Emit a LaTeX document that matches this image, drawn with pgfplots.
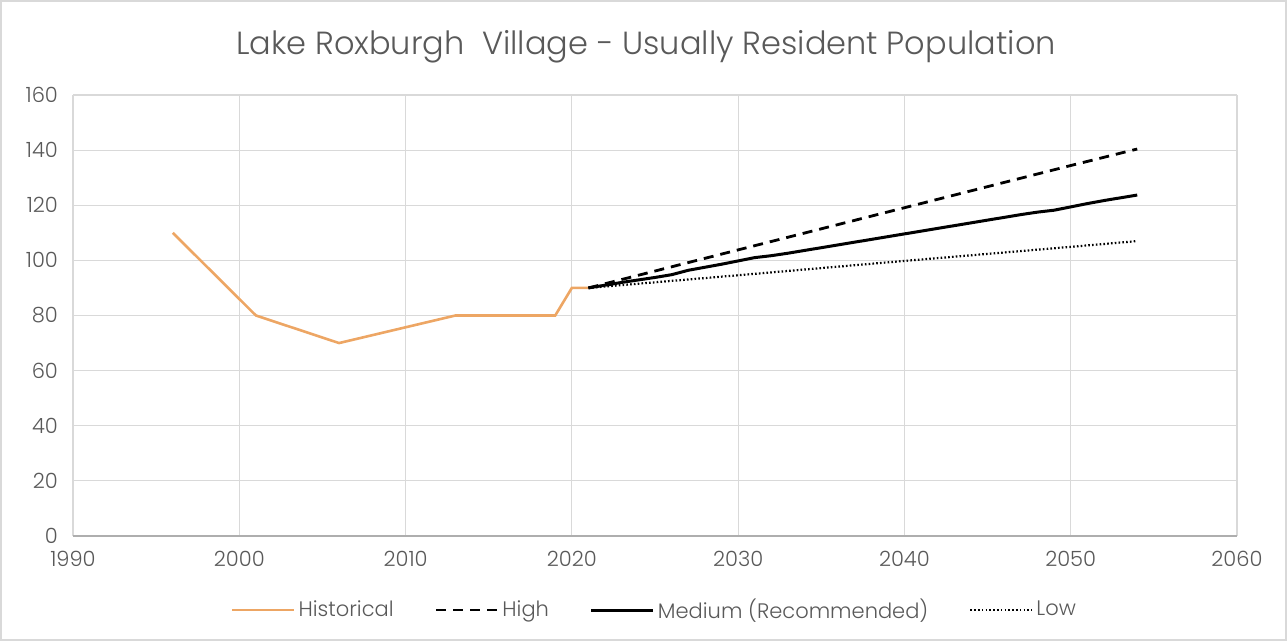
\documentclass[border=0pt]{standalone}
\usepackage{pgfplots}
\pgfplotsset{compat=1.18}
\usepackage{fontspec}
\setmainfont{Poppins Light}
\definecolor{txt}{HTML}{595959}
\definecolor{gridc}{HTML}{D9D9D9}
\definecolor{histline}{HTML}{EDA664}
\begin{document}
\begin{tikzpicture}
\useasboundingbox (0,0) rectangle (643.5pt,320.5pt);
\draw[gridc, line width=0.8pt] (0.5pt,0.5pt) rectangle (643pt,320pt);
\node[txt, font=\fontsize{16}{19}\selectfont] at (323pt,297pt) {Lake Roxburgh\ \ Village - Usually Resident Population};
\begin{axis}[
  at={(36.5pt,52.5pt)}, anchor=south west,
  scale only axis, width=582pt, height=220.5pt,
  xmin=1990, xmax=2060, ymin=0, ymax=160,
  xtick={1990,2000,...,2060}, ytick={0,20,...,160},
  /pgf/number format/1000 sep={},
  /pgf/number format/assume math mode=true,
  grid=major, grid style={gridc, line width=0.6pt},
  axis line style={draw=none},
  extra y ticks={0}, extra y tick labels={},
  extra y tick style={grid style={draw=gridc!80!black, line width=0.7pt}},
  major tick length=0pt,
  tick label style={txt, font=\fontsize{10.5}{12}\selectfont},
  yticklabel style={xshift=-4pt},
  xticklabel style={yshift=-4pt},
  legend columns=4,
  legend style={at={(0.5,-0.168)}, anchor=center, draw=none, fill=none,
    font=\fontsize{10.5}{12}\selectfont, text=txt,
    nodes={inner xsep=1.5pt},
    /tikz/every even column/.append style={column sep=19pt}},
  legend image code/.code={\draw[#1] (0pt,0pt) -- (31pt,0pt);},
]
\addplot[histline, line width=1.3pt] coordinates {
  (1996,110) (2001,80) (2006,70) (2013,80) (2019,80) (2020,90) (2021,90)};
\addlegendentry{Historical}
\addplot[black, line width=1.4pt, dash pattern=on 5pt off 3.5pt] coordinates {
  (2021,90) (2030,103.8) (2040,119.1) (2050,134.4) (2054,140.4)};
\addlegendentry{High}
\addplot[black, line width=1.5pt] coordinates {
  (2021,90) (2022,91) (2023,92) (2024,92.9) (2025,93.8) (2026,94.8)
  (2027,96.4) (2028,97.5) (2029,98.6) (2030,99.8) (2031,101) (2032,101.7)
  (2033,102.6) (2034,103.6) (2035,104.6) (2036,105.6) (2037,106.6)
  (2038,107.6) (2039,108.6) (2040,109.6) (2041,110.6) (2042,111.6)
  (2043,112.6) (2044,113.6) (2045,114.6) (2046,115.6) (2047,116.6)
  (2048,117.5) (2049,118.2) (2050,119.4) (2051,120.6) (2052,121.7)
  (2053,122.7) (2054,123.7)};
\addlegendentry{Medium (Recommended)}
\addplot[black, line width=1.1pt, dash pattern=on 0.8pt off 1.1pt] coordinates {
  (2021,90) (2030,94.6) (2040,99.8) (2050,104.9) (2054,107)};
\addlegendentry{Low}
\end{axis}
\end{tikzpicture}
\end{document}
